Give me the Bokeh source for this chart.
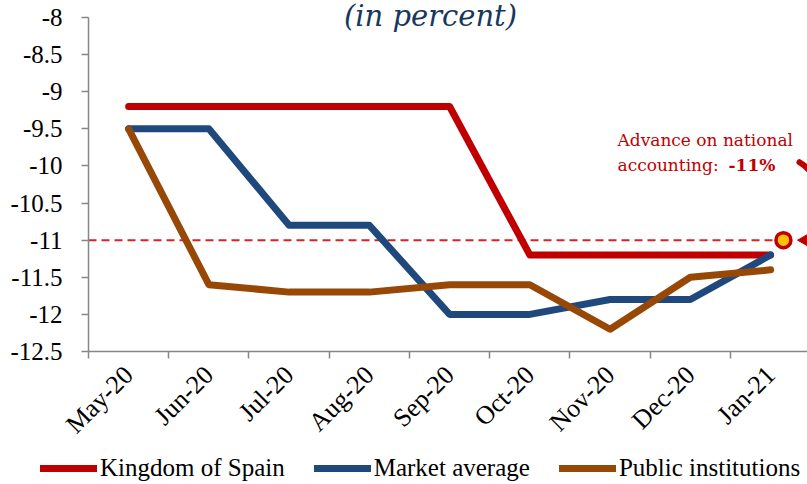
import math
from bokeh.plotting import figure
from bokeh.layouts import column
from bokeh.models import (Range1d, FixedTicker, Legend, LegendItem, Label)
from bokeh.embed import file_html
from bokeh.resources import INLINE

months = ["May-20", "Jun-20", "Jul-20", "Aug-20", "Sep-20", "Oct-20", "Nov-20", "Dec-20", "Jan-21"]
spain = [-9.2, -9.2, -9.2, -9.2, -9.2, -11.2, -11.2, -11.2, -11.2]
market = [-9.5, -9.5, -10.8, -10.8, -12.0, -12.0, -11.8, -11.8, -11.2]
public = [-9.5, -11.6, -11.7, -11.7, -11.6, -11.6, -12.2, -11.5, -11.4]
series_names = ["Kingdom of Spain", "Market average", "Public institutions"]
national_accounting = -11.0
national_x = 8.16  # position of the advance marker, just past Jan-21
y_ticks = [-12.5, -12, -11.5, -11, -10.5, -10, -9.5, -9, -8.5, -8]

xs = list(range(len(months)))

RED = "#C00000"
BLUE = "#1F497D"
BROWN = "#974806"
COLORS = [RED, BLUE, BROWN]
SERIF = "Liberation Serif"

# frame reaches the top edge so the title is not clipped; axis line is bounded to -12.5..-8
p = figure(width=807, height=452, output_backend="svg", toolbar_location=None,
           x_range=Range1d(-0.5, 8.46), y_range=Range1d(-12.5, -7.7715),
           min_border_left=88, min_border_right=0, min_border_top=0, min_border_bottom=100)
p.outline_line_color = None
p.grid.visible = False
p.background_fill_color = "white"
p.border_fill_color = "white"

# axes
p.xaxis.ticker = FixedTicker(ticks=xs, minor_ticks=[i - 0.5 for i in range(len(months) + 1)])
p.xaxis.major_label_overrides = {i: m for i, m in enumerate(months)}
p.xaxis.major_label_orientation = math.pi / 4
p.xaxis.major_tick_out = 0
p.xaxis.major_tick_in = 0
p.xaxis.minor_tick_out = 7
p.xaxis.minor_tick_in = 0
p.xaxis.minor_tick_line_color = "#868686"
p.xaxis.minor_tick_line_width = 1.5
p.xaxis.axis_line_color = "#868686"
p.xaxis.axis_line_width = 1.5
p.xaxis.major_label_text_font = SERIF
p.xaxis.major_label_text_font_size = "26px"
p.xaxis.major_label_text_color = "black"
p.xaxis.major_label_standoff = 12

p.yaxis.ticker = FixedTicker(ticks=y_ticks)
p.yaxis.bounds = (min(y_ticks), max(y_ticks))
p.yaxis.major_label_overrides = {t: (str(int(t)) if t == int(t) else str(t)) for t in y_ticks}
p.yaxis.minor_tick_line_color = None
p.yaxis.major_tick_out = 7
p.yaxis.major_tick_in = 0
p.yaxis.major_tick_line_color = "#868686"
p.yaxis.major_tick_line_width = 1.5
p.yaxis.axis_line_color = "#868686"
p.yaxis.axis_line_width = 1.5
p.yaxis.major_label_text_font = SERIF
p.yaxis.major_label_text_font_size = "25px"
p.yaxis.major_label_text_color = "black"
p.yaxis.major_label_standoff = 19

# reference dashed line at national accounting value
p.segment(x0=[-0.5], y0=[national_accounting], x1=[national_x], y1=[national_accounting],
          line_color="#DD2222", line_width=2, line_dash="8 5")

for vals, col in zip([spain, market, public], COLORS):
    p.line(xs, vals, line_color=col, line_width=7, line_cap="round", line_join="round")

# curved arrow from annotation to marker (mostly beyond the visible frame)
p.bezier(x0=[8.36], y0=[-9.95], x1=[8.45], y1=[national_accounting],
         cx0=[8.75], cy0=[-10.2], cx1=[8.75], cy1=[national_accounting],
         line_color=RED, line_width=6, line_cap="round")
p.scatter([8.43], [national_accounting], size=13, marker="triangle", angle=math.pi / 2,
          fill_color=RED, line_color=RED)

p.scatter([national_x], [national_accounting], size=15, marker="circle",
          fill_color="#FFC000", line_color=RED, line_width=3.5)

# title at the top edge
p.add_layout(Label(x=342, y=336, x_units="screen", y_units="screen", text="(in percent)",
                   text_font="DejaVu Serif", text_font_style="italic", text_font_size="29px",
                   text_color="#17375E", text_align="center", text_baseline="alphabetic"))

# annotation
ann_font = "DejaVu Serif"
p.add_layout(Label(x=529, y=212, x_units="screen", y_units="screen", text="Advance on national",
                   text_font=ann_font, text_font_size="17px", text_color=RED,
                   text_baseline="alphabetic"))
p.add_layout(Label(x=529, y=187, x_units="screen", y_units="screen", text="accounting:",
                   text_font=ann_font, text_font_size="17px", text_color=RED,
                   text_baseline="alphabetic"))
p.add_layout(Label(x=640, y=187, x_units="screen", y_units="screen",
                   text=f"{int(national_accounting)}%",
                   text_font=ann_font, text_font_size="17px", text_font_style="bold",
                   text_color=RED, text_baseline="alphabetic"))

# legend strip below the chart (its series lie outside this strip's view)
lg = figure(width=807, height=32, output_backend="svg", toolbar_location=None,
            x_axis_type=None, y_axis_type=None, x_range=Range1d(0, 1), y_range=Range1d(0, 1),
            min_border=0)
try:
    lg.frame_align = False
    p.frame_align = False
except Exception:
    pass
lg.outline_line_color = None
lg.grid.visible = False
items = []
for name, vals, col in zip(series_names, [spain, market, public], COLORS):
    r = lg.line(x=xs, y=vals, line_color=col, line_width=7, line_cap="round")
    items.append(LegendItem(label=name, renderers=[r]))
legend = Legend(items=items, orientation="horizontal", location=(40, 2),
                glyph_width=57, glyph_height=28, label_standoff=3, spacing=29,
                padding=0, margin=0, border_line_color=None, background_fill_alpha=0,
                label_text_font=SERIF, label_text_font_size="25px", label_text_color="black")
lg.add_layout(legend, "center")

layout = column(p, lg, spacing=0)
open("out.html", "w").write(file_html(layout, INLINE))
